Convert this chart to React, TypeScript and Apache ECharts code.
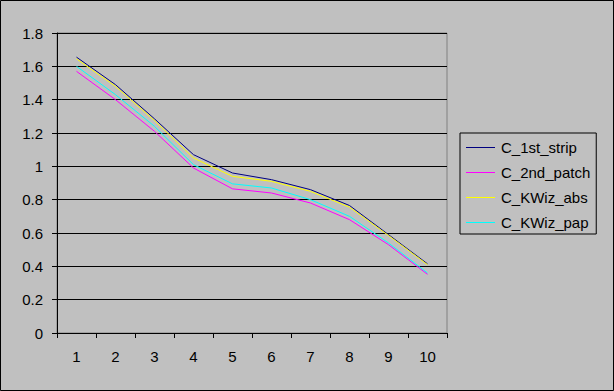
import React, { useEffect, useRef } from "react";
import * as echarts from "echarts";

const categories = ["1", "2", "3", "4", "5", "6", "7", "8", "9", "10"];
const seriesNames = ["C_1st_strip", "C_2nd_patch", "C_KWiz_abs", "C_KWiz_pap"];
const c1stStrip = [1.655, 1.49, 1.285, 1.07, 0.96, 0.92, 0.86, 0.765, 0.59, 0.415];
const c2ndPatch = [1.57, 1.40, 1.21, 0.99, 0.865, 0.84, 0.78, 0.68, 0.53, 0.352];
const cKWizAbs = [1.645, 1.48, 1.275, 1.05, 0.94, 0.91, 0.85, 0.755, 0.585, 0.41];
const cKWizPap = [1.60, 1.43, 1.24, 1.01, 0.895, 0.87, 0.80, 0.70, 0.54, 0.36];
const seriesColors = ["#000080", "#ff00ff", "#ffff00", "#00ffff"];
const yMin = 0;
const yMax = 1.8;
const yInterval = 0.2;

const FONT = "'Liberation Sans', Arial, sans-serif";

export default function App() {
  const ref = useRef<HTMLDivElement>(null);
  useEffect(() => {
    document.body.style.margin = "0";
    const chart = echarts.init(ref.current!, null, { renderer: "svg" });
    const data = [c1stStrip, c2ndPatch, cKWizAbs, cKWizPap];
    chart.setOption({
      animation: false,
      backgroundColor: "#c0c0c0",
      textStyle: { fontFamily: FONT },
      grid: {
        left: 57,
        right: 167,
        top: 33,
        bottom: 58,
        show: true,
        backgroundColor: "#c0c0c0",
        borderColor: "#808080",
        borderWidth: 1,
      },
      graphic: [
        {
          type: "rect",
          shape: { x: 0.5, y: 0.5, width: 613, height: 390 },
          style: { fill: "none", stroke: "#000", lineWidth: 1 },
          z: 100,
        },
      ],
      legend: {
        orient: "vertical",
        left: 460,
        top: 133,
        padding: [7, 6, 4, 6],
        icon: "rect",
        itemWidth: 29,
        itemHeight: 1,
        itemGap: 10,
        borderColor: "#000",
        borderWidth: 1,
        borderRadius: 0,
        backgroundColor: "#c0c0c0",
        textStyle: { fontFamily: FONT, fontSize: 15, lineHeight: 15, color: "#000", padding: [0, 0, 0, 1] },
        data: seriesNames,
      },
      xAxis: {
        type: "category",
        data: categories,
        boundaryGap: true,
        axisLine: { lineStyle: { color: "#000", width: 1 } },
        axisTick: { show: true, length: 5, inside: false, alignWithLabel: false, lineStyle: { color: "#000" } },
        axisLabel: { color: "#000", fontSize: 15, fontFamily: FONT, margin: 16, interval: 0 },
        splitLine: { show: false },
      },
      yAxis: {
        type: "value",
        min: yMin,
        max: yMax,
        interval: yInterval,
        axisLine: { show: true, lineStyle: { color: "#000", width: 1 } },
        axisTick: { show: true, length: 5, inside: false, lineStyle: { color: "#000" } },
        axisLabel: { color: "#000", fontSize: 15, fontFamily: FONT, margin: 14 },
        splitLine: { show: true, lineStyle: { color: "#000", width: 1 } },
      },
      series: seriesNames.map((name, i) => ({
        name,
        type: "line",
        data: data[i],
        symbol: "none",
        showSymbol: false,
        color: seriesColors[i],
        itemStyle: { color: seriesColors[i] },
        lineStyle: { color: seriesColors[i], width: 1 },
      })),
    });
    return () => chart.dispose();
  }, []);
  return <div ref={ref} style={{ position: "absolute", left: 0, top: 0, width: 614, height: 391 }} />;
}
